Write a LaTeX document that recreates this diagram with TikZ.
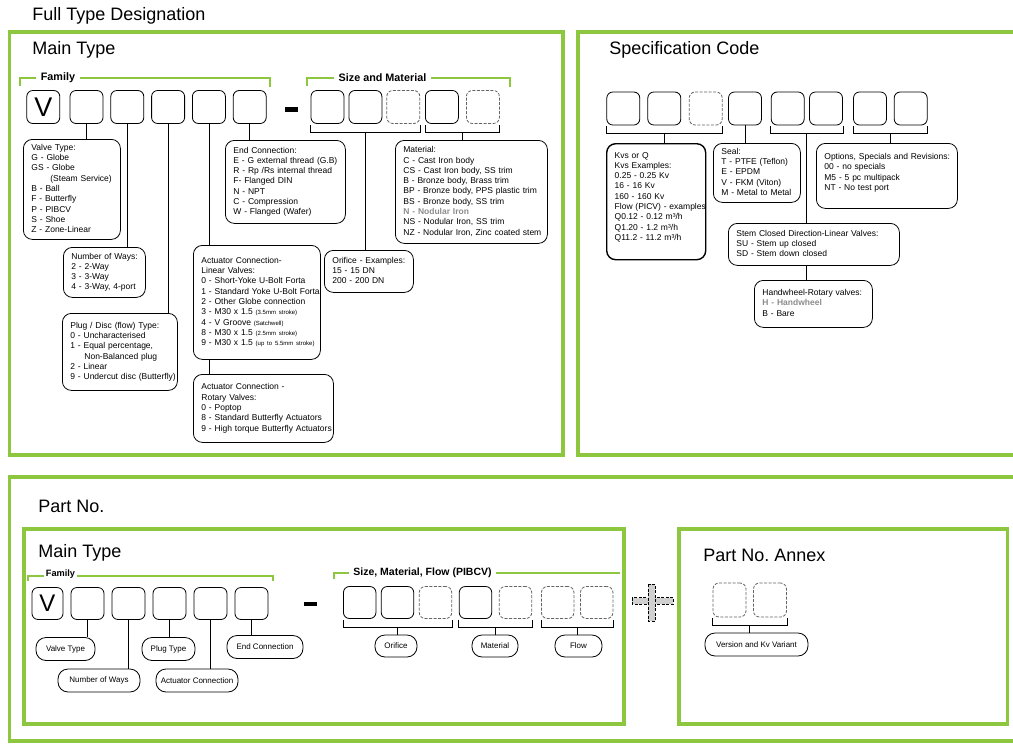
\documentclass[tikz,border=0pt]{standalone}
\usepackage{fontspec}
\setmainfont{Liberation Sans}
\usepackage{tikz}
\usetikzlibrary{calc}
\definecolor{grn}{RGB}{141,198,63}
\definecolor{dgray}{RGB}{100,100,100}
\definecolor{plusgray}{RGB}{208,208,208}
\definecolor{softgray}{RGB}{140,140,140}
\frenchspacing
\newcommand{\boxlines}[1]{\begin{tabular}{@{}l@{}}#1\end{tabular}}
\newcommand{\smallnote}[1]{{\fontsize{6}{6}\selectfont #1}}
\newcommand{\codebrk}[3]{%
  \draw[brk] ($(#1.south west)+(0,1)$) -- ($(#1.south west)+(0,8)$) -- ($(#2.south east)+(0,8)$) -- ($(#2.south east)+(0,1)$);
  \coordinate (#3) at ($(#1.south west)!.5!(#2.south east)+(0,8)$);}

\begin{document}
\begin{tikzpicture}[x=1pt,y=-1pt,thick,node distance=40.8pt,
    frame/.style={draw=grn,line width=3.6pt},
    cbox/.style={draw,rounded corners=6pt,minimum width=33pt,minimum height=33pt,inner sep=0pt},
    dbox/.style={cbox,draw=dgray,dash pattern=on 3pt off 1.5pt},
    info/.style={draw,rounded corners=9pt,anchor=north west,inner xsep=8pt,inner ysep=0pt,
      align=left,font=\fontsize{8.5}{10.3}\selectfont},
    pill/.style={draw,rounded corners=10pt,minimum height=23pt,inner sep=1pt,font=\fontsize{8}{9}\selectfont},
    grnbr/.style={draw=grn,line width=2.6pt},
    brtag/.style={fill=white,inner xsep=5pt,inner ysep=1pt,font=\bfseries\fontsize{10.8}{12}\selectfont},
    heading/.style={anchor=base west,inner sep=0pt,font=\fontsize{18}{20}\selectfont},
    brk/.style={draw,line width=0.8pt}]
  \useasboundingbox (0,0) rectangle (1013,745);
  \fill[white] (0,0) rectangle (1013,745);

  \draw[frame] (9.5,32) rectangle (563,455);
  \draw[frame] (578,32) rectangle (1030,455);
  \draw[frame] (9.5,477) rectangle (1030,741);
  \draw[frame] (24,529) rectangle (624,724);
  \draw[frame] (679,529) rectangle (1007.5,724);

  \node[heading] (fulltitle) at (32,20.5) {Full Type Designation};
  \node[heading] (maintitle) at (32,54) {Main Type};
  \node[heading] (spectitle) at (609,54) {Specification Code};
  \node[heading] (parttitle) at (38,512) {Part No.};
  \node[heading] (main2title) at (38,557) {Main Type};
  \node[heading] (annextitle) at (703,561) {Part No. Annex};

  \draw[grnbr] (20,85.5) -- (20,78) -- (270,78) -- (270,86.5);
  \node[brtag] (famtag) at (58,78) {Family};
  \draw[grnbr] (307,85.5) -- (307,78) -- (510,78) -- (510,86.5);
  \node[brtag] (sizetag) at (382.5,78) {Size and Material};

  \node[cbox,font=\fontsize{27}{27}\selectfont] (v) at (43.3,107) {V};
  \node[cbox] (c1) at (86.5,107) {};
  \node[cbox] (c2) [right of=c1] {};
  \node[cbox] (c3) [right of=c2] {};
  \node[cbox] (c4) [right of=c3] {};
  \node[cbox] (c5) [right of=c4] {};
  \node[fill,minimum width=13pt,minimum height=4.5pt,inner sep=0pt] (dash) at (291.5,109.5) {};
  \node[cbox] (s1) at (327.5,107) {};
  \node[cbox,node distance=37.9pt] (s2) [right of=s1] {};
  \node[dbox,node distance=37.9pt] (s3) [right of=s2] {};
  \node[cbox,node distance=38.6pt] (s4) [right of=s3] {};
  \node[dbox,node distance=41pt] (s5) [right of=s4] {};
  \codebrk{s1}{s3}{sb1}
  \codebrk{s4}{s5}{sb2}

  \node[info,text width=81pt,minimum height=100pt] (vtype) at (23,139) {\boxlines{Valve Type:\\ G - Globe\\ GS - Globe\\ \hspace*{19pt}(Steam Service)\\ B - Ball\\ F - Butterfly\\ P - PIBCV\\ S - Shoe\\ Z - Zone-Linear}};
  \node[info,text width=66pt,minimum height=50pt] (ways) at (63,247) {\boxlines{Number of Ways:\\ 2 - 2-Way\\ 3 - 3-Way\\ 4 - 3-Way, 4-port}};
  \node[info,text width=99pt,minimum height=77pt] (plug) at (62,313) {\boxlines{Plug / Disc (flow) Type:\\ 0 - Uncharacterised\\ 1 - Equal percentage,\\ \hspace*{14pt}Non-Balanced plug\\ 2 - Linear\\ 9 - Undercut disc (Butterfly)}};
  \node[info,text width=111pt,minimum height=114pt] (actlin) at (193,245) {\boxlines{Actuator Connection-\\ Linear Valves:\\ 0 - Short-Yoke U-Bolt Forta\\ 1 - Standard Yoke U-Bolt Forta\\ 2 - Other Globe connection\\ 3 - M30 x 1.5 \smallnote{(3.5mm stroke)}\\ 4 - V Groove \smallnote{(Satchwell)}\\ 8 - M30 x 1.5 \smallnote{(2.5mm stroke)}\\ 9 - M30 x 1.5 \smallnote{(up to 5.5mm stroke)}}};
  \node[info,text width=124pt,minimum height=68pt] (actrot) at (193,374) {\boxlines{Actuator Connection -\\ Rotary Valves:\\ 0 - Poptop\\ 8 - Standard Butterfly Actuators\\ 9 - High torque Butterfly Actuators}};
  \node[info,text width=104pt,minimum height=83pt] (endc) at (225,140) {\boxlines{End Connection:\\ E - G external thread (G.B)\\ R - Rp /Rs internal thread\\ F- Flanged DIN\\ N - NPT\\ C - Compression\\ W - Flanged (Wafer)}};
  \node[info,text width=73pt,minimum height=42pt] (orif) at (324,250) {\boxlines{Orifice - Examples:\\ 15 - 15 DN\\ 200 - 200 DN}};
  \node[info,text width=136pt,minimum height=103pt] (mat) at (395,140) {\boxlines{Material:\\ C - Cast Iron body\\ CS - Cast Iron body, SS trim\\ B - Bronze body, Brass trim\\ BP - Bronze body, PPS plastic trim\\ BS - Bronze body, SS trim\\ \textcolor{softgray}{\bfseries N - Nodular Iron}\\ NS - Nodular Iron, SS trim\\ NZ - Nodular Iron, Zinc coated stem}};

  \path (c1.south) edge (c1.south |- vtype.north);
  \path (c2.south) edge (c2.south |- ways.north);
  \path (c3.south) edge (c3.south |- plug.north);
  \path (c4.south) edge (c4.south |- actlin.north);
  \path (c4.south |- actlin.south) edge (c4.south |- actrot.north);
  \path (c5.south) edge (c5.south |- endc.north);
  \path (sb1) edge (sb1 |- orif.north);
  \path (sb2) edge (sb2 |- mat.north);

  \node[cbox] (k1) at (623.3,108.5) {};
  \node[cbox] (k2) at (664.3,108.5) {};
  \node[dbox] (k3) at (705.7,108.5) {};
  \node[cbox] (k4) at (745,108.5) {};
  \node[cbox] (k5) at (787.7,108.5) {};
  \node[cbox] (k6) at (826,108.5) {};
  \node[cbox] (k7) at (870,108.5) {};
  \node[cbox] (k8) at (910.7,108.5) {};
  \codebrk{k1}{k3}{kb1}
  \codebrk{k5}{k6}{kb2}
  \codebrk{k7}{k8}{kb3}

  \node[info,line width=1.4pt,text width=83pt,minimum height=116pt] (kvs) at (606,143) {\boxlines{Kvs or Q\\ Kvs Examples:\\ 0.25 - 0.25 Kv\\ 16 - 16 Kv\\ 160 - 160 Kv\\ Flow (PICV) - examples\\ Q0.12 - 0.12 m³/h\\ Q1.20 - 1.2 m³/h\\ Q11.2 - 11.2 m³/h\\[9pt]}};
  \node[info,text width=71pt,minimum height=59pt] (seal) at (713,143) {\boxlines{Seal:\\ T - PTFE (Teflon)\\ E - EPDM\\ V - FKM (Viton)\\ M - Metal to Metal}};
  \node[info,text width=125pt,minimum height=65pt] (opts) at (816,143) {\boxlines{Options, Specials and Revisions:\\ 00 - no specials\\ M5 - 5 pc multipack\\ NT - No test port\\[6pt]}};
  \node[info,text width=155pt,minimum height=42pt] (stemc) at (728,223) {\boxlines{Stem Closed Direction-Linear Valves:\\ SU - Stem up closed\\ SD - Stem down closed}};
  \node[info,text width=102pt,minimum height=47pt] (hand) at (754,280) {\boxlines{Handwheel-Rotary valves:\\ \textcolor{softgray}{\bfseries H - Handwheel}\\ B - Bare}};

  \path (kb1) edge (kb1 |- kvs.north);
  \path (k4.south) edge (k4.south |- seal.north);
  \path (kb2) edge (kb2 |- stemc.north);
  \path (kb2 |- stemc.south) edge (kb2 |- hand.north);
  \path (kb3) edge (kb3 |- opts.north);

  \draw[grnbr,line width=2.2pt] (28,580.5) -- (28,576) -- (273,576) -- (273,580.5);
  \node[brtag,font=\bfseries\fontsize{9.2}{11}\selectfont,inner xsep=2pt] (famtag2) at (60.5,574) {Family};
  \draw[grnbr,line width=2.2pt] (334,578.5) -- (334,573) -- (620,573);
  \node[brtag,font=\bfseries\fontsize{10.5}{12}\selectfont,inner xsep=4pt] (sizetag2) at (422.5,573) {Size, Material, Flow (PIBCV)};

  \node[cbox,minimum width=31pt,minimum height=32pt,font=\fontsize{24}{24}\selectfont] (w) at (47.5,603.5) {V};
  \node[cbox,minimum height=32pt] (p1) at (87.5,603.5) {};
  \node[cbox,minimum height=32pt,node distance=41pt] (p2) [right of=p1] {};
  \node[cbox,minimum height=32pt,node distance=41pt] (p3) [right of=p2] {};
  \node[cbox,minimum height=32pt,node distance=41pt] (p4) [right of=p3] {};
  \node[cbox,minimum height=32pt,node distance=41pt] (p5) [right of=p4] {};
  \node[fill,minimum width=13pt,minimum height=4.5pt,inner sep=0pt] (dash2) at (310,604) {};
  \node[cbox,minimum width=32.5pt,minimum height=32pt] (q1) at (359.7,602.5) {};
  \node[cbox,minimum width=32.5pt,minimum height=32pt] (q2) at (397.5,602.5) {};
  \node[dbox,minimum width=32.5pt,minimum height=32pt] (q3) at (435.5,602.5) {};
  \node[cbox,minimum width=32.5pt,minimum height=32pt] (q4) at (475.5,602.5) {};
  \node[dbox,minimum width=32.5pt,minimum height=32pt] (q5) at (515.5,602.5) {};
  \node[dbox,minimum width=32.5pt,minimum height=32pt] (q6) at (557.7,602.5) {};
  \node[dbox,minimum width=32.5pt,minimum height=32pt] (q7) at (596.7,602.5) {};
  \codebrk{q1}{q3}{qb1}
  \codebrk{q4}{q5}{qb2}
  \codebrk{q6}{q7}{qb3}

  \node[pill,minimum width=59pt] (pvt) at (65.5,649) {Valve Type};
  \node[pill,minimum width=82pt] (pnw) at (99,680.5) {Number of Ways};
  \node[pill,minimum width=53pt] (ppt) at (168.5,649) {Plug Type};
  \node[pill,minimum width=82pt] (pac) at (197,680.5) {Actuator Connection};
  \node[pill,minimum width=76pt] (pec) at (265,647) {End Connection};
  \node[pill,minimum width=42pt,minimum height=22pt] (por) at (396,646) {Orifice};
  \node[pill,minimum width=46pt,minimum height=22pt] (pma) at (495,646) {Material};
  \node[pill,minimum width=47pt,minimum height=22pt] (pfl) at (578.5,646) {Flow};

  \path (p1.south) edge (p1.south |- pvt.north);
  \path (p2.south) edge (p2.south |- pnw.north);
  \path (p3.south) edge (p3.south |- ppt.north);
  \path (p4.south) edge (p4.south |- pac.north);
  \path (p5.south) edge (p5.south |- pec.north);
  \path (qb1) edge (qb1 |- por.north);
  \path (qb2) edge (qb2 |- pma.north);
  \path (qb3) edge (qb3 |- pfl.north);

  \filldraw[fill=plusgray,draw=black,semithick,dash pattern=on 3pt off 1.5pt] (632,597.5) rectangle (673,604);
  \filldraw[fill=plusgray,draw=black,semithick,dash pattern=on 3pt off 1.5pt] (648,584) rectangle (655,621);

  \node[dbox,minimum height=34pt] (a1) at (729.5,600) {};
  \node[dbox,minimum height=34pt] (a2) at (770,600) {};
  \codebrk{a1}{a2}{ab}
  \node[pill,minimum width=103pt] (pver) at (756.5,644.5) {Version and Kv Variant};
  \path (ab) edge (ab |- pver.north);
\end{tikzpicture}
\end{document}
